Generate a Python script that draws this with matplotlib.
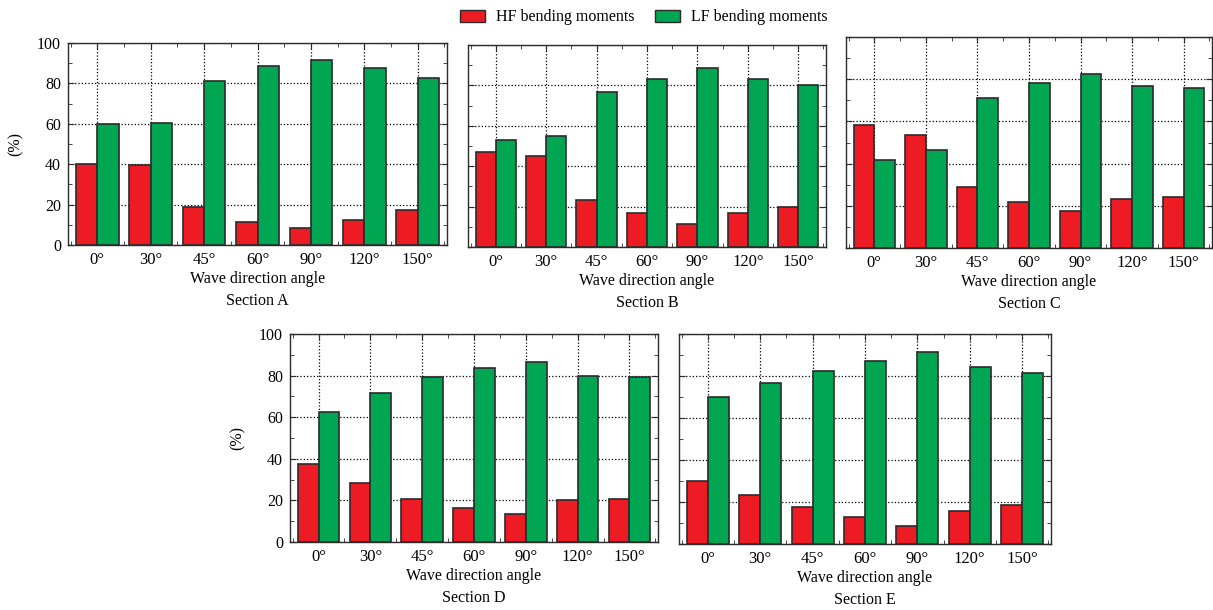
import numpy as np
import matplotlib
from matplotlib import pyplot as plt
from matplotlib.patches import Patch
from matplotlib.ticker import MultipleLocator

matplotlib.use("agg")

plt.rcParams["font.family"] = ["Liberation Serif", "DejaVu Serif"]
plt.rcParams["font.size"] = 11.5

angles = ["0°", "30°", "45°", "60°", "90°", "120°", "150°"]

hf_a = [40, 39.5, 19, 11.5, 8.5, 12.5, 17.5]
lf_a = [60, 60.5, 81, 88.5, 91.5, 87.5, 82.5]
hf_b = [47, 45, 23.5, 17, 11.5, 17, 20]
lf_b = [53, 55, 76.5, 83, 88.5, 83, 80]
hf_c = [58.5, 53.5, 29, 22, 17.5, 23, 24]
lf_c = [41.5, 46.5, 71, 78, 82.5, 77, 76]
hf_d = [37.5, 28.5, 20.5, 16.5, 13.5, 20, 20.5]
lf_d = [62.5, 71.5, 79.5, 83.5, 86.5, 80, 79.5]
hf_e = [30, 23.5, 17.5, 13, 8.5, 15.5, 18.5]
lf_e = [70, 76.5, 82.5, 87, 91.5, 84.5, 81.5]

red = "#ed1c24"
green = "#00a651"
edge = "#2b2b2b"

W, H = 1213, 610


def px_axes(fig, left, top, right, bottom):
    return fig.add_axes([left / W, 1 - bottom / H, (right - left) / W, (bottom - top) / H])


def draw_panel(ax, hf, lf, section, show_y):
    x = np.arange(len(angles))
    w = 0.4
    ax.bar(x - w / 2, hf, w, color=red, edgecolor=edge, linewidth=1.2, zorder=3)
    ax.bar(x + w / 2, lf, w, color=green, edgecolor=edge, linewidth=1.2, zorder=3)

    ax.set_xlim(-0.55, len(angles) - 0.45)
    ax.set_ylim(0, 100)
    ax.set_xticks(x)
    ax.set_xticklabels(angles, fontsize=12)
    ax.xaxis.set_minor_locator(MultipleLocator(1, offset=0.5))
    ax.yaxis.set_major_locator(MultipleLocator(20))
    ax.yaxis.set_minor_locator(MultipleLocator(10))
    ax.tick_params(which="both", direction="in", top=True, right=True, color=edge)
    ax.tick_params(which="major", length=4, pad=5)
    ax.tick_params(which="minor", length=3)
    if not show_y:
        ax.set_yticklabels([])
    else:
        ax.set_ylabel("(%)", labelpad=10)

    ax.grid(True, which="major", color="black", linestyle=":", linewidth=0.9, zorder=0)
    for s in ax.spines.values():
        s.set_color(edge)
        s.set_linewidth(1.0)

    ax.set_xlabel("Wave direction angle\nSection " + section, linespacing=1.5, labelpad=2)


fig = plt.figure(figsize=(W / 100, H / 100), dpi=100)

ax_a = px_axes(fig, 68, 43, 447, 245)
ax_b = px_axes(fig, 468, 45, 826, 247)
ax_c = px_axes(fig, 846, 37, 1212, 248)
ax_d = px_axes(fig, 290, 334, 658, 542)
ax_e = px_axes(fig, 679, 334, 1051, 544)

draw_panel(ax_a, hf_a, lf_a, "A", True)
draw_panel(ax_b, hf_b, lf_b, "B", False)
draw_panel(ax_c, hf_c, lf_c, "C", False)
draw_panel(ax_d, hf_d, lf_d, "D", True)
draw_panel(ax_e, hf_e, lf_e, "E", False)

handles = [Patch(facecolor=red, edgecolor=edge, label="HF bending moments"),
           Patch(facecolor=green, edgecolor=edge, label="LF bending moments")]
fig.legend(handles=handles, loc="upper center", bbox_to_anchor=(0.531, 1.008), ncol=2,
           frameon=False, handlelength=1.55, handleheight=0.85, handletextpad=0.7,
           columnspacing=1.3)

plt.savefig("out.png", dpi=100)
